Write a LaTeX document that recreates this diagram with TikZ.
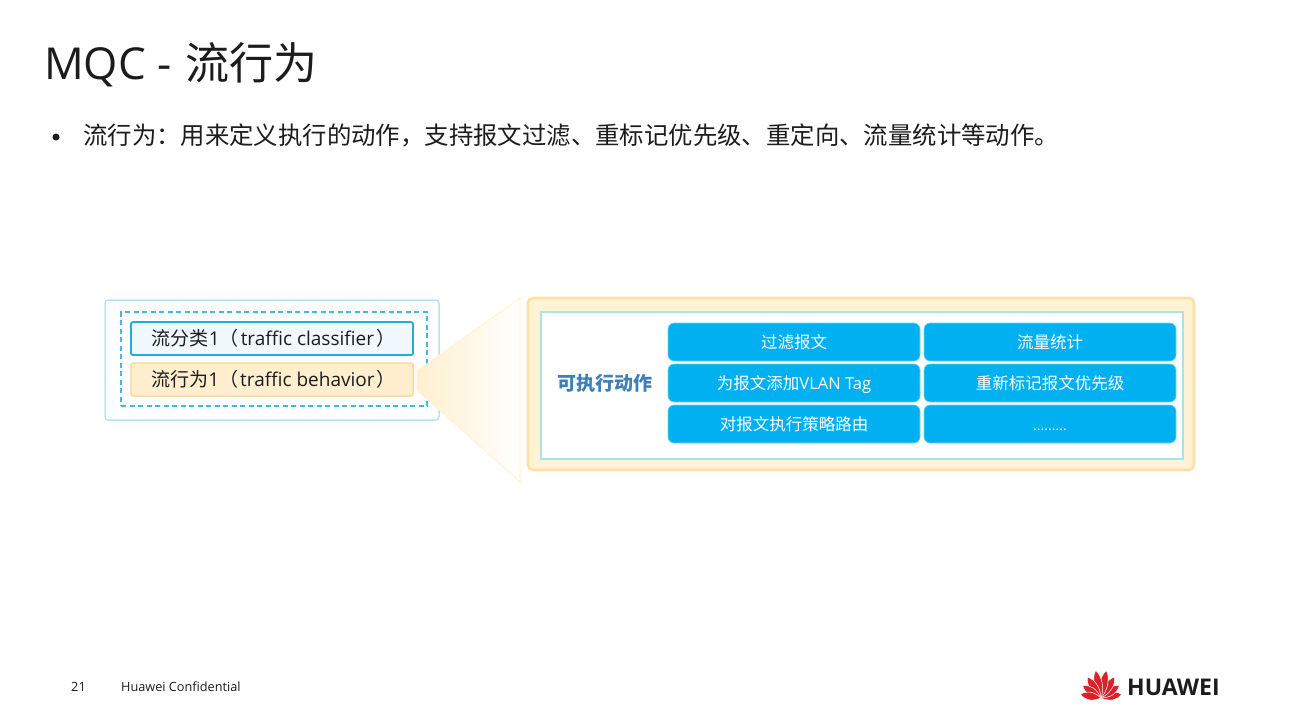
\documentclass[tikz,border=0pt]{standalone}
\usepackage{fontspec}
\setmainfont{Noto Sans CJK SC}
\newfontfamily\latinfont{Open Sans}
\usetikzlibrary{positioning,shadings}
\definecolor{skyline}{HTML}{B5E6F7}
\definecolor{dashblue}{HTML}{3DBBE3}
\definecolor{classline}{HTML}{22ACDD}
\definecolor{classfill}{HTML}{F1F9FE}
\definecolor{behavfill}{HTML}{FFEFCE}
\definecolor{behavline}{HTML}{FBD9A0}
\definecolor{panelfill}{HTML}{FFF3D6}
\definecolor{panelline}{HTML}{FDE0A6}
\definecolor{innerline}{HTML}{ABE2E8}
\definecolor{actionblue}{HTML}{00B0F0}
\definecolor{labelblue}{HTML}{3F7FB8}
\definecolor{petalred}{HTML}{D9232B}
\definecolor{inkgray}{HTML}{1C1C1C}
\tikzset{
  box/.style={rectangle, inner sep=0pt, outer sep=0pt},
  outerbox/.style={box, draw=skyline, line width=1.5pt, rounded corners=3pt, minimum width=334pt, minimum height=120pt},
  dashbox/.style={box, draw=dashblue, line width=1.5pt, dash pattern=on 5pt off 3.5pt, minimum width=306pt, minimum height=94pt},
  rowbox/.style={box, rounded corners=2pt, minimum width=282pt, minimum height=33pt, text=inkgray, text height=16pt, text depth=2pt, font=\fontsize{19}{23}\selectfont},
  action/.style={box, fill=actionblue, draw=actionblue!55, line width=.6pt, rounded corners=6pt, minimum width=252pt, minimum height=38pt, text=white, text height=14pt, text depth=1pt, font=\fontsize{16.5}{20}\selectfont},
  petal/.style={fill=petalred, draw=white, line width=.5pt},
}
\begin{document}
\begin{tikzpicture}[x=1pt,y=-1pt]
  \useasboundingbox (0,0) rectangle (1291,718);
  \fill[white] (0,0) rectangle (1291,718);

  \node[anchor=west, inner sep=0pt, text=inkgray, font=\fontsize{44}{50}\selectfont] (title) at (44,65) {{\latinfont MQC - }\kern3pt流行为};
  \node[circle, fill=inkgray, inner sep=0pt, minimum size=7pt] (bullet) at (56,137) {};
  \node[anchor=west, inner sep=0pt, text=inkgray, font=\fontsize{24.4}{29}\selectfont] (intro) at (83,135) {流行为：用来定义执行的动作，支持报文过滤、重标记优先级、重定向、流量统计等动作。};

  % left part
  \node[outerbox] (policy) at (272,360) {};
  \node[dashbox] (pair) at (274,359) {};
  \node[rowbox, draw=classline, line width=1.8pt, fill=classfill] (classifier) at (272,338.5) {\kern3pt流分类{\latinfont 1}（\kern2pt{\latinfont traffic classifier}\kern2pt）};
  \node[rowbox, draw=behavline, line width=1.5pt, fill=behavfill, below=8pt of classifier] (behavior) {\kern3pt流行为{\latinfont 1}（\kern2pt{\latinfont traffic behavior}\kern2pt）};

  % zoom wedge
  \path[left color=behavfill, right color=white, draw=panelfill, line width=1pt]
    (417,371) -- (520,298) -- (520,482) -- (417,390) -- cycle;

  % right part
  \node[box, draw=panelline, fill=panelfill, line width=2.6pt, rounded corners=5pt, minimum width=666pt, minimum height=172pt] (panel) at (861,384) {};
  \node[box, draw=innerline, fill=white, line width=1.3pt, minimum width=642pt, minimum height=147pt] (inner) at (862,385.5) {};
  \node[text=labelblue, inner sep=0pt, font=\fontsize{19}{23}\selectfont\bfseries] (actions) at (604.5,383) {可执行动作};

  \node[action] (a1) at (794,342) {过滤报文};
  \node[action, right=4pt of a1] (a2) {流量统计};
  \node[action, below=3pt of a1] (a3) {为报文添加{\latinfont VLAN Tag}};
  \node[action, below=3pt of a2] (a4) {重新标记报文优先级};
  \node[action, below=3pt of a3] (a5) {对报文执行策略路由};
  \node[action, below=3pt of a4] (a6) {\fontsize{14}{17}\selectfont\latinfont .........};

  % footer
  \node[inner sep=0pt, text=inkgray, font=\fontsize{12.7}{16}\selectfont\latinfont] (page) at (78.5,687) {21};
  \node[anchor=west, inner sep=0pt, text=inkgray, font=\fontsize{12.7}{16}\selectfont\latinfont] (conf) at (121,687) {Huawei Confidential};

  % logo
  \foreach \ang/\len in {-80/21,-56/22,-33/25,-11/28,11/28,33/25,56/22,80/21}{
    \fill[petal, shift={(1101,698)}, rotate=\ang]
      (0,0) .. controls (-5.5,-9) and (-5,-\len+6) .. (0,-\len) .. controls (5,-\len+6) and (5.5,-9) .. (0,0) -- cycle;
  }
  \node[anchor=west, inner sep=0pt, text=inkgray, font=\fontsize{23}{27}\selectfont\bfseries\latinfont] (brand) at (1127,687.5) {HUAWEI};
\end{tikzpicture}
\end{document}
